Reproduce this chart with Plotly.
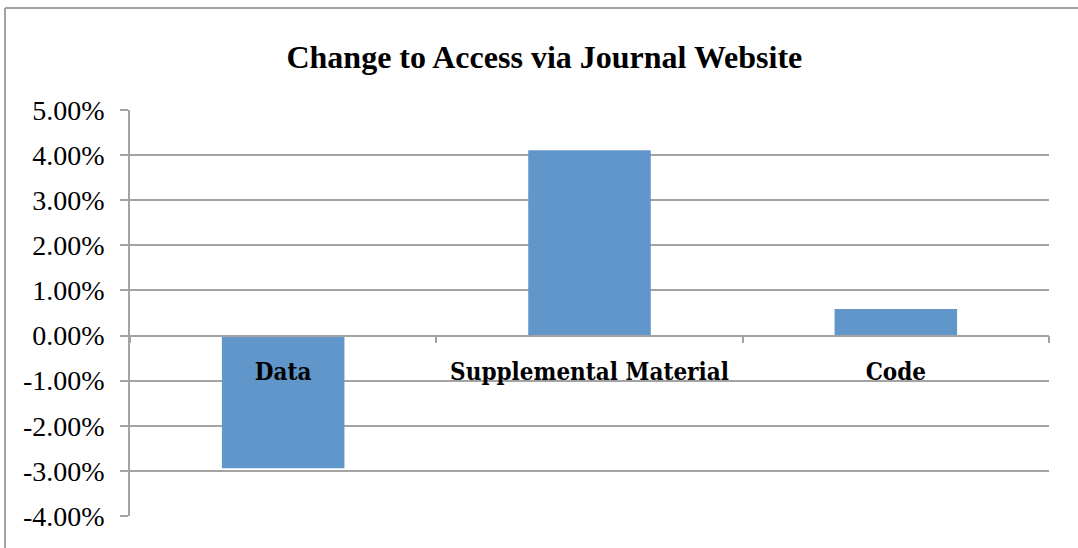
import plotly.graph_objects as go

# 数据
categories = ["Data", "Supplemental Material", "Code"]
changes = [-0.0294, 0.0411, 0.0059]
y_ticks = [0.05, 0.04, 0.03, 0.02, 0.01, 0.0, -0.01, -0.02, -0.03, -0.04]
y_labels = [f"{v * 100:.2f}%" for v in y_ticks]  # 用普通连字符作负号

GRID = "#a3a3a3"
BAR = "#6096c9"

fig = go.Figure(go.Bar(
    x=categories, y=changes,
    marker=dict(color=BAR, line=dict(width=0)),
    hoverinfo="x+y",
))

fig.update_layout(
    width=1078, height=548,
    paper_bgcolor="white", plot_bgcolor="white",
    margin=dict(l=130, r=29, t=110, b=32),
    bargap=0.6,
    showlegend=False,
    title=dict(
        text="<b>Change to Access via Journal Website</b>",
        x=0.505, xanchor="center", y=0.897, yanchor="middle",
        font=dict(family="Liberation Serif", size=32, color="black"),
    ),
)

fig.update_yaxes(
    range=[-0.04, 0.05],
    tickvals=y_ticks, ticktext=y_labels,
    showgrid=True, gridcolor=GRID, gridwidth=1.5,
    zeroline=False,
    showline=True, linecolor=GRID, linewidth=1.5,
    ticks="outside", ticklen=8, tickcolor=GRID, tickwidth=1.5,
    ticklabelstandoff=10,
    tickfont=dict(family="Liberation Serif", size=28, color="black"),
)

fig.update_xaxes(
    type="category",
    anchor="free", position=4 / 9,
    showgrid=False, zeroline=False,
    showline=True, linecolor=GRID, linewidth=1.5,
    ticks="outside", tickson="boundaries", ticklen=7, tickcolor=GRID, tickwidth=1.5,
    ticklabelstandoff=15,
    tickfont=dict(family="DejaVu Serif Condensed", size=24, color="black", weight="bold"),
)

# 外框（只露出左边和上边）
left_x = -125 / 919
top_y = 1 + 102 / 406
fig.add_shape(type="line", xref="paper", yref="paper",
              x0=left_x, x1=left_x, y0=-0.3, y1=top_y,
              line=dict(color=GRID, width=2))
fig.add_shape(type="line", xref="paper", yref="paper",
              x0=left_x, x1=1.2, y0=top_y, y1=top_y,
              line=dict(color=GRID, width=2))

# 去掉页面默认的 8px 边距
fig.write_html(
    "out.html",
    config={"displayModeBar": False},
    post_script="document.body.style.margin='0';",
)
